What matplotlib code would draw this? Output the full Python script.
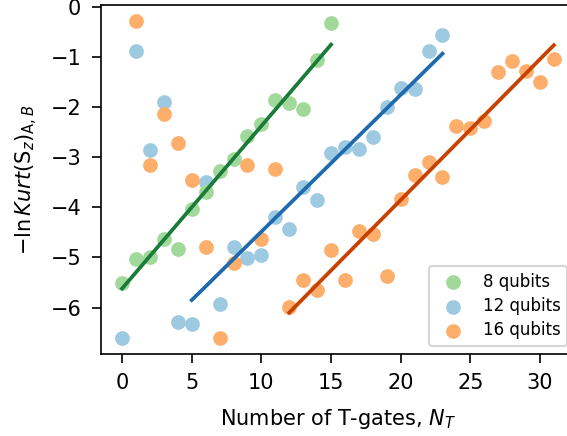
import numpy as np
import matplotlib
matplotlib.use("Agg")
import matplotlib.pyplot as plt

# T-gate counts
nt_8 = np.arange(0, 16)
nt_12 = np.arange(0, 24)
nt_16 = np.arange(1, 32)

# -ln Kurt values
y_8 = [-5.50, -5.03, -4.99, -4.64, -4.84, -4.03, -3.70, -3.27,
       -3.03, -2.59, -2.34, -1.87, -1.93, -2.04, -1.07, -0.32]
y_12 = [-6.61, -0.89, -2.86, -1.90, -6.28, -6.33, -3.49, -5.93,
        -4.80, -5.02, -4.95, -4.19, -4.44, -3.59, -3.86, -2.91,
        -2.79, -2.83, -2.61, -2.00, -1.63, -1.65, -0.89, -0.56]
y_16 = [-0.29, -3.16, -2.14, -2.71, -3.45, -4.80, -6.61, -5.11,
        -3.16, -4.64, -3.23, -5.98, -5.44, -5.64, -4.86, -5.44,
        -4.47, -4.53, -5.36, -3.83, -3.35, -3.10, -3.40, -2.38,
        -2.43, -2.28, -1.31, -1.09, -1.28, -1.50, -1.05]

# linear fit lines (end points)
fit_x_8, fit_y_8 = [0, 15], [-5.62, -0.76]
fit_x_12, fit_y_12 = [5, 23], [-5.85, -0.94]
fit_x_16, fit_y_16 = [12, 31], [-6.10, -0.77]

pt_colors = {"8": "#a1d99b", "12": "#9ecae1", "16": "#fdae6b"}
ln_colors = {"8": "#1b7c3a", "12": "#1f6aad", "16": "#c94100"}


def main():
    fig = plt.figure(figsize=(567 / 150, 436 / 150), dpi=150)
    ax = fig.add_axes([100.5 / 567, 81.7 / 436, 475 / 567, 349.3 / 436])

    h12 = ax.scatter(nt_12, y_12, s=50, color=pt_colors["12"], label="12 qubits", linewidths=0)
    h8 = ax.scatter(nt_8, y_8, s=50, color=pt_colors["8"], label="8 qubits", linewidths=0)
    h16 = ax.scatter(nt_16, y_16, s=50, color=pt_colors["16"], label="16 qubits", linewidths=0)

    ax.plot(fit_x_8, fit_y_8, color=ln_colors["8"], lw=1.8)
    ax.plot(fit_x_12, fit_y_12, color=ln_colors["12"], lw=1.8)
    ax.plot(fit_x_16, fit_y_16, color=ln_colors["16"], lw=1.8)

    ax.set_xlim(-1.55, 32.55)
    ax.set_ylim(-6.93, 0.03)
    ax.set_xticks([0, 5, 10, 15, 20, 25, 30])
    ax.set_yticks([0, -1, -2, -3, -4, -5, -6])
    ax.tick_params(length=4.2, pad=5)

    ax.set_xlabel("Number of T-gates, $N_T$", labelpad=6.5)
    ax.set_ylabel(r"$-\ln Kurt(\mathrm{S}_z)_{\mathrm{A},B}$", labelpad=5)

    ax.legend(handles=[h8, h12, h16], loc="lower right", fontsize=8,
              labelspacing=0.38)

    fig.savefig("out.png", dpi=150)


if __name__ == "__main__":
    main()
